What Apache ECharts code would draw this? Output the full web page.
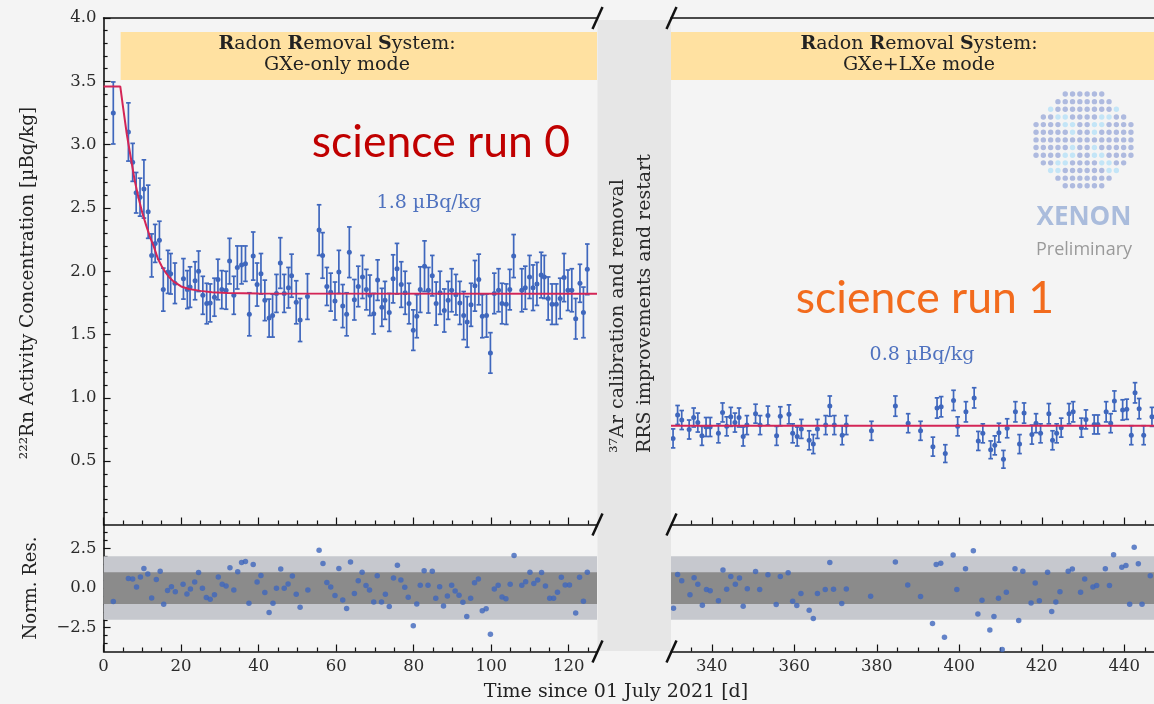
<!DOCTYPE html>
<html><head><meta charset="utf-8">
<script src="https://cdn.jsdelivr.net/npm/echarts@6/dist/echarts.min.js"></script>
<style>html,body{margin:0;padding:0;background:#F4F4F4}#c{width:1154px;height:704px}</style>
</head><body><div id="c"></div>
<script>
// ---------------- DATA ----------------
const leftDays = [2.5,6.4,7.5,8.4,9.4,10.4,11.5,12.4,13.3,14.4,
15.4,16.6,17.3,18.4,20.6,21.6,22.3,23.6,24.5,25.6,
26.6,27.5,28.6,29.5,30.5,31.6,32.5,33.6,34.5,35.6,
36.6,37.6,38.6,39.6,40.6,41.6,42.7,43.6,44.6,45.6,
46.6,47.7,48.5,49.7,50.7,52.6,55.6,56.5,57.6,58.6,
59.7,60.7,61.7,62.7,63.4,64.7,65.7,66.8,67.8,68.7,
69.7,70.7,71.8,72.6,73.7,74.7,75.7,76.8,77.8,78.8,
79.9,80.8,81.7,82.8,83.8,84.8,85.8,86.8,87.9,88.9,
89.8,90.9,91.9,92.9,93.8,94.8,95.8,96.8,97.7,98.8,
99.8,100.8,101.9,102.8,103.9,104.8,105.8,107.9,108.8,109.9,
110.8,111.8,112.9,113.7,114.7,115.7,116.8,117.8,118.8,119.8,
120.8,121.8,122.9,123.8,124.8];
const leftRn = [3.25,3.10,2.86,2.62,2.585,2.65,2.47,2.125,2.22,2.245,
1.855,1.995,1.98,1.905,1.94,1.855,1.875,1.925,2.00,1.81,
1.745,1.75,1.795,1.935,1.855,1.85,2.08,1.81,2.03,2.05,
2.06,1.66,2.12,1.895,1.98,1.77,1.63,1.65,1.825,2.065,
1.825,1.87,1.965,1.755,1.615,1.80,2.325,2.125,1.88,1.835,
1.765,1.995,1.725,1.66,2.15,1.775,1.88,1.955,1.855,1.81,
1.665,1.93,1.715,1.77,1.675,1.94,2.02,1.895,1.83,1.745,
1.535,1.645,1.855,2.04,1.85,1.965,1.745,1.83,1.69,1.77,
1.85,1.815,1.75,1.65,1.60,1.735,1.885,1.935,1.645,1.65,
1.355,1.825,1.85,1.745,1.74,1.855,2.12,1.85,1.87,1.955,
1.87,1.90,1.97,1.955,1.785,1.74,1.74,1.785,1.95,1.85,
1.85,1.625,1.905,1.675,2.015];
const leftErr = [0.245,0.23,0.15,0.16,0.15,0.23,0.21,0.17,0.15,0.15,
0.17,0.17,0.16,0.16,0.16,0.15,0.16,0.15,0.16,0.15,
0.16,0.15,0.15,0.16,0.15,0.15,0.18,0.15,0.17,0.15,
0.14,0.17,0.19,0.17,0.16,0.16,0.15,0.17,0.15,0.20,
0.15,0.16,0.17,0.17,0.17,0.18,0.20,0.18,0.15,0.15,
0.15,0.17,0.17,0.17,0.20,0.16,0.16,0.17,0.16,0.16,
0.16,0.16,0.15,0.15,0.15,0.19,0.20,0.18,0.17,0.16,
0.16,0.17,0.18,0.20,0.18,0.16,0.17,0.17,0.17,0.15,
0.17,0.16,0.17,0.19,0.20,0.17,0.20,0.20,0.17,0.17,
0.16,0.16,0.17,0.16,0.16,0.16,0.17,0.17,0.17,0.17,
0.18,0.17,0.18,0.17,0.17,0.16,0.16,0.16,0.19,0.16,
0.17,0.16,0.15,0.20,0.20];
const leftFitDays = [0,4.3,5,6,7,8,9,10,11,12,13,14,15,16,17,18,20,22,25,28,32,40,127.3];
const leftFitRn = [3.46,3.46,3.30,3.08,2.90,2.72,2.58,2.46,2.36,2.27,2.19,2.10,2.04,1.99,1.95,1.92,1.88,1.86,1.845,1.835,1.828,1.824,1.823];

const rightDays = [330.6,331.7,332.7,334.5,335.6,336.6,337.6,338.6,339.6,341.6,
342.6,343.6,344.6,345.6,346.6,347.6,348.5,350.6,351.7,353.6,
355.7,356.6,358.7,359.6,360.7,361.7,363.6,364.6,365.6,367.6,
368.6,369.7,371.6,372.6,378.7,384.5,387.6,390.6,393.6,394.6,
395.6,396.6,398.6,399.6,401.6,403.6,404.6,405.7,407.6,408.6,
409.6,410.7,411.6,413.6,414.6,415.7,417.6,418.6,419.7,421.7,
422.6,423.6,424.7,426.6,427.6,429.6,430.7,432.7,433.6,435.6,
436.7,437.6,439.6,440.6,441.7,442.6,443.6,444.7,446.7];
const rightRn = [0.68,0.865,0.825,0.75,0.845,0.805,0.70,0.77,0.77,0.72,
0.885,0.775,0.85,0.805,0.845,0.695,0.785,0.875,0.785,0.86,
0.70,0.855,0.87,0.72,0.695,0.755,0.665,0.635,0.755,0.785,
0.935,0.785,0.705,0.785,0.74,0.935,0.80,0.74,0.615,0.92,
0.93,0.56,0.98,0.775,0.89,1.00,0.66,0.72,0.59,0.625,
0.725,0.515,0.76,0.89,0.635,0.88,0.71,0.80,0.72,0.875,
0.665,0.72,0.765,0.875,0.89,0.765,0.83,0.79,0.79,0.89,
0.80,0.975,0.905,0.91,0.705,1.04,0.915,0.705,0.85];
const rightErr = [0.075,0.075,0.075,0.075,0.075,0.075,0.075,0.075,0.075,0.075,
0.075,0.075,0.075,0.075,0.075,0.075,0.075,0.075,0.075,0.075,
0.075,0.075,0.075,0.075,0.075,0.075,0.075,0.075,0.075,0.075,
0.08,0.075,0.075,0.075,0.075,0.08,0.075,0.075,0.075,0.08,
0.08,0.07,0.08,0.075,0.08,0.08,0.075,0.075,0.07,0.075,
0.075,0.07,0.075,0.08,0.075,0.08,0.075,0.075,0.075,0.08,
0.075,0.075,0.075,0.08,0.08,0.075,0.075,0.075,0.075,0.08,
0.075,0.08,0.08,0.08,0.075,0.08,0.08,0.075,0.075];
const rightFitDays = [330.1,447.2];
const rightFitRn = [0.78,0.78];

const leftResDays = [2.5,6.4,7.5,8.5,9.5,10.4,11.4,12.4,13.6,14.6,
15.5,16.5,17.5,18.5,20.5,21.5,22.4,23.5,24.5,25.5,
26.5,27.5,28.6,29.6,30.6,31.6,32.6,33.6,34.6,35.6,
36.6,37.5,38.6,39.6,40.6,41.6,42.7,43.7,44.6,45.7,
46.6,47.6,48.7,49.7,50.7,52.7,55.6,56.6,57.6,58.6,
59.7,60.7,61.7,62.7,63.7,64.7,65.7,66.7,67.7,68.6,
69.7,70.6,71.7,72.7,73.7,74.8,75.8,76.7,77.7,78.6,
79.9,80.8,81.7,82.7,83.7,84.8,85.7,86.7,87.7,88.7,
89.8,90.7,91.7,92.7,93.7,94.7,95.7,96.7,97.7,98.7,
99.8,100.8,101.8,102.8,103.8,104.9,105.9,107.9,108.9,110.0,
111.0,112.0,113.0,114.0,115.1,116.1,117.1,118.1,119.1,120.2,
121.8,122.8,123.8,124.8];
const leftRes = [-0.85,0.60,0.56,0.06,0.69,1.23,0.88,-0.63,0.54,1.06,
-1.02,-0.15,0.08,-0.23,0.23,-0.38,-0.06,0.38,0.98,-0.02,
-0.60,-0.71,-0.42,0.69,0.23,0.13,1.27,-0.13,1.02,1.60,
1.67,-0.96,1.48,0.38,0.79,-0.29,-1.54,-0.96,-0.02,1.19,
-0.02,0.25,0.75,-0.40,-1.21,-0.13,2.38,1.54,0.35,0.06,
-0.48,1.23,-0.75,-1.29,1.63,-0.35,0.46,1.00,0.15,-0.13,
-0.88,0.77,-0.88,-0.40,-1.17,0.63,1.44,0.50,0.04,-0.58,
-2.38,-1.00,0.17,1.08,0.17,1.06,-0.65,0.08,-1.13,-0.50,
0.17,-0.19,-0.46,-0.90,-1.79,-0.65,0.33,0.56,-1.44,-1.31,
-2.92,-0.06,0.17,-0.56,-0.67,0.23,2.04,0.17,0.40,1.00,
0.29,0.50,0.98,0.13,-0.65,-0.65,-0.27,0.67,0.19,0.19,
-1.58,0.67,-0.83,1.00];
const rightResDays = [330.7,331.7,332.7,334.7,335.7,336.6,337.7,338.7,339.6,341.6,
342.7,343.6,344.6,345.7,346.7,347.6,348.6,350.6,351.6,353.6,
355.6,356.6,358.5,359.6,360.6,361.6,363.6,364.6,365.6,367.5,
368.6,369.5,371.5,372.6,378.5,384.5,387.5,390.6,393.5,394.4,
395.5,396.4,398.5,399.4,401.5,403.4,404.5,405.5,407.4,408.4,
409.5,410.4,411.4,413.5,414.4,415.4,417.4,418.4,419.4,421.4,
422.4,423.4,424.4,426.4,427.4,429.4,430.4,432.4,433.3,435.4,
436.4,437.4,439.4,440.4,441.3,442.4,443.4,444.3,446.3];
const rightRes = [-1.27,0.85,0.46,-0.42,0.65,0.23,-1.08,-0.10,-0.17,-0.81,
1.13,-0.08,0.73,0.23,0.63,-1.15,-0.04,1.04,-0.10,0.83,
-1.04,0.73,0.96,-0.83,-1.10,-0.35,-1.40,-1.92,-0.35,-0.10,
1.60,-0.08,-0.98,-0.06,-0.52,1.63,0.19,-0.54,-2.23,1.48,
1.56,-3.10,2.08,-0.10,1.21,2.35,-1.63,-0.77,-2.65,-1.79,
-0.65,-3.88,-0.27,1.21,-2.04,1.06,-0.94,0.31,-0.81,1.00,
-1.48,-0.88,-0.23,1.06,1.19,-0.27,0.56,0.06,0.15,1.21,
0.15,2.10,1.31,1.42,-1.02,2.56,1.52,-1.02,0.77];

// axis ranges and ticks
const leftRange = [0, 127.3];
const rightRange = [330.1, 447.2];
const rnRange = [0, 4];
const resRange = [-4, 4];
const leftDayTicks = [0,20,40,60,80,100,120];
const leftDayMinor = [5,10,15,25,30,35,45,50,55,65,70,75,85,90,95,105,110,115,125];
const rightDayTicks = [340,360,380,400,420,440];
const rightDayMinor = [335,345,350,355,365,370,375,385,390,395,405,410,415,425,430,435,445];
const rnTicks = [0.5,1.0,1.5,2.0,2.5,3.0,3.5,4.0];
const rnMinor = [0.1,0.2,0.3,0.4,0.6,0.7,0.8,0.9,1.1,1.2,1.3,1.4,1.6,1.7,1.8,1.9,2.1,2.2,2.3,2.4,2.6,2.7,2.8,2.9,3.1,3.2,3.3,3.4,3.6,3.7,3.8,3.9];
const resTicks = [-2.5,0,2.5];
const resMinor = [-3.5,-3,-2,-1.5,-1,-0.5,0.5,1,1.5,2,3,3.5];
// annotation bands
const rrsBandRn = [3.51, 3.89];
const rrsLeftDays = [4.4, 127.3];
const sigmaBands = [2, 1];

// ---------------- STYLE ----------------
const BLUE = '#3F67BD', RED = '#D42556', AX = '#111111';
const SERIF = 'DejaVu Serif';

function ax(o){
  return Object.assign({type:'value', splitLine:{show:false},
    axisLine:{show:false,onZero:false}, axisTick:{show:false}, axisLabel:{show:false}}, o);
}
function aline(){ return {show:true,onZero:false,lineStyle:{color:AX,width:1.6}}; }
function ticks(vals,len){ return {show:true,inside:true,length:len,customValues:vals,lineStyle:{color:AX,width:1.2}}; }
function labels(vals,fmt,margin){ return {show:true,customValues:vals,formatter:fmt,color:'#2b2b2b',fontFamily:SERIF,fontSize:16.5,margin:margin}; }

const fmt1 = v => Number(v).toFixed(1);
const fmtRes = v => { const s = Math.abs(v).toFixed(1); return v < 0 ? '\u2212' + s : s; };

const grids = [
  {left:103.6, top:18, width:493.4, height:506.5},
  {left:671, top:18, width:483, height:506.5},
  {left:103.6, top:524.5, width:493.4, height:127},
  {left:671, top:524.5, width:483, height:127}
];

const xAxes = [
  ax({gridIndex:0,min:leftRange[0],max:leftRange[1],position:'bottom',axisLine:aline(),axisTick:ticks(leftDayTicks,7)}),
  ax({gridIndex:0,min:leftRange[0],max:leftRange[1],position:'bottom',axisTick:ticks(leftDayMinor,4)}),
  ax({gridIndex:0,min:leftRange[0],max:leftRange[1],position:'top',axisLine:aline()}),
  ax({gridIndex:1,min:rightRange[0],max:rightRange[1],position:'bottom',axisLine:aline(),axisTick:ticks(rightDayTicks,7)}),
  ax({gridIndex:1,min:rightRange[0],max:rightRange[1],position:'bottom',axisTick:ticks(rightDayMinor,4)}),
  ax({gridIndex:1,min:rightRange[0],max:rightRange[1],position:'top',axisLine:aline()}),
  ax({gridIndex:2,min:leftRange[0],max:leftRange[1],position:'bottom',axisLine:aline(),axisTick:ticks(leftDayTicks,7),axisLabel:labels(leftDayTicks,v=>String(v),7)}),
  ax({gridIndex:2,min:leftRange[0],max:leftRange[1],position:'bottom',axisTick:ticks(leftDayMinor,4)}),
  ax({gridIndex:3,min:rightRange[0],max:rightRange[1],position:'bottom',axisLine:aline(),axisTick:ticks(rightDayTicks,7),axisLabel:labels(rightDayTicks,v=>String(v),7)}),
  ax({gridIndex:3,min:rightRange[0],max:rightRange[1],position:'bottom',axisTick:ticks(rightDayMinor,4)})
];
const yAxes = [
  ax({gridIndex:0,min:rnRange[0],max:rnRange[1],position:'left',axisLine:aline(),axisTick:ticks(rnTicks,7),axisLabel:labels(rnTicks,fmt1,7)}),
  ax({gridIndex:0,min:rnRange[0],max:rnRange[1],position:'left',axisTick:ticks(rnMinor,4)}),
  ax({gridIndex:1,min:rnRange[0],max:rnRange[1]}),
  ax({gridIndex:2,min:resRange[0],max:resRange[1],position:'left',axisLine:aline(),axisTick:ticks(resTicks,7),axisLabel:labels(resTicks,fmtRes,7)}),
  ax({gridIndex:2,min:resRange[0],max:resRange[1],position:'left',axisTick:ticks(resMinor,4)}),
  ax({gridIndex:3,min:resRange[0],max:resRange[1]})
];

function errItem(params, api){
  const x = api.value(0), y = api.value(1), e = api.value(2);
  const c = api.coord([x,y]), t = api.coord([x,y+e]), b = api.coord([x,y-e]);
  const st = {stroke:BLUE, lineWidth:1.7};
  return {type:'group', children:[
    {type:'line', shape:{x1:c[0],y1:t[1],x2:c[0],y2:b[1]}, style:st},
    {type:'line', shape:{x1:c[0]-2.3,y1:t[1],x2:c[0]+2.3,y2:t[1]}, style:st},
    {type:'line', shape:{x1:c[0]-2.3,y1:b[1],x2:c[0]+2.3,y2:b[1]}, style:st},
    {type:'circle', shape:{cx:c[0],cy:c[1],r:2.5}, style:{fill:BLUE}}
  ]};
}
function rectItem(colors){
  return function(params, api){
    const p1 = api.coord([api.value(0), api.value(3)]);
    const p2 = api.coord([api.value(1), api.value(2)]);
    return {type:'rect', shape:{x:p1[0], y:p1[1], width:p2[0]-p1[0], height:p2[1]-p1[1]},
      style:{fill:colors[params.dataIndex]}};
  };
}
const zip3 = (a,b,c) => a.map((v,i)=>[v,b[i],c[i]]);
const zip2 = (a,b) => a.map((v,i)=>[v,b[i]]);

const series = [
  {type:'custom', xAxisIndex:0, yAxisIndex:0, z:1, silent:true, renderItem:rectItem(['#FFE1A1']),
   encode:{x:[0,1],y:[2,3]}, data:[[rrsLeftDays[0],rrsLeftDays[1],rrsBandRn[0],rrsBandRn[1]]]},
  {type:'custom', xAxisIndex:3, yAxisIndex:2, z:1, silent:true, renderItem:rectItem(['#FFE1A1']),
   encode:{x:[0,1],y:[2,3]}, data:[[rightRange[0],rightRange[1],rrsBandRn[0],rrsBandRn[1]]]},
  {type:'custom', xAxisIndex:6, yAxisIndex:3, z:1, silent:true, renderItem:rectItem(['#C6C8CE','#8B8B8B']),
   encode:{x:[0,1],y:[2,3]}, data:sigmaBands.map(s=>[leftRange[0],leftRange[1],-s,s])},
  {type:'custom', xAxisIndex:8, yAxisIndex:5, z:1, silent:true, renderItem:rectItem(['#C6C8CE','#8B8B8B']),
   encode:{x:[0,1],y:[2,3]}, data:sigmaBands.map(s=>[rightRange[0],rightRange[1],-s,s])},
  {type:'custom', xAxisIndex:0, yAxisIndex:0, z:3, renderItem:errItem, encode:{x:0,y:1},
   data:zip3(leftDays,leftRn,leftErr)},
  {type:'custom', xAxisIndex:3, yAxisIndex:2, z:3, renderItem:errItem, encode:{x:0,y:1},
   data:zip3(rightDays,rightRn,rightErr)},
  {type:'line', xAxisIndex:0, yAxisIndex:0, z:4, showSymbol:false, symbol:'none',
   lineStyle:{color:RED,width:2}, data:zip2(leftFitDays,leftFitRn)},
  {type:'line', xAxisIndex:3, yAxisIndex:2, z:4, showSymbol:false, symbol:'none',
   lineStyle:{color:RED,width:2}, data:zip2(rightFitDays,rightFitRn)},
  {type:'scatter', xAxisIndex:6, yAxisIndex:3, z:4, symbolSize:5.5, itemStyle:{color:BLUE},
   data:zip2(leftResDays,leftRes)},
  {type:'scatter', xAxisIndex:8, yAxisIndex:5, z:4, symbolSize:5.5, itemStyle:{color:BLUE},
   data:zip2(rightResDays,rightRes)}
];

// ---------------- ANNOTATIONS ----------------
const g = [];
g.push({type:'rect', shape:{x:597.5, y:20, width:73.5, height:631}, style:{fill:'#E6E6E6'}, z:5});
[597.5, 671.5].forEach(x => [18, 524.5, 651.5].forEach(y => {
  g.push({type:'line', shape:{x1:x-5, y1:y+11, x2:x+5, y2:y-11}, style:{stroke:AX, lineWidth:2.5}, z:20});
}));
function txt(x,y,text,o,extra){
  return Object.assign({type:'text', x:x, y:y, z:30, silent:true,
    style:Object.assign({text:text, fill:'#222', fontFamily:SERIF, fontSize:19, align:'center', verticalAlign:'middle'}, o)}, extra||{});
}
const richB = {b:{fontWeight:'bold', fontFamily:SERIF, fontSize:19, fill:'#222', lineHeight:21}};
g.push(txt(337, 54.5, '{b|R}adon {b|R}emoval {b|S}ystem:\nGXe-only mode', {lineHeight:21, rich:richB}));
g.push(txt(919, 54.5, '{b|R}adon {b|R}emoval {b|S}ystem:\nGXe+LXe mode', {lineHeight:21, rich:richB}));
g.push(txt(441, 143, 'science run 0', {fontFamily:'Lato', fontSize:44.5, fill:'#C00000'}));
g.push(txt(925, 299, 'science run 1', {fontFamily:'Lato', fontSize:44.5, fill:'#F26B1D'}));
g.push(txt(429, 203, '1.8 \u00B5Bq/kg', {fill:'#4F72BF'}));
g.push(txt(922, 355, '0.8 \u00B5Bq/kg', {fill:'#4F72BF'}));
g.push(txt(618.5, 453, '\u00B3\u2077Ar calibration and removal', {align:'left', fill:'#2a2a2a'}, {rotation:Math.PI/2}));
g.push(txt(645.5, 453, 'RRS improvements and restart', {align:'left', fill:'#2a2a2a'}, {rotation:Math.PI/2}));
g.push(txt(28, 283, '\u00B2\u00B2\u00B2Rn Activity Concentration [\u00B5Bq/kg]', {fontSize:18.5}, {rotation:Math.PI/2}));
g.push(txt(31, 588, 'Norm. Res.', {fontSize:18}, {rotation:Math.PI/2}));
g.push(txt(616, 692, 'Time since 01 July 2021 [d]', {fontSize:19}));
g.push(txt(1084, 217.5, 'XENON', {fontFamily:'Open Sans', fontWeight:'bold', fontSize:26, fill:'#AABCDC'}));
g.push(txt(1084, 250, 'Preliminary', {fontFamily:'Open Sans', fontSize:18, fill:'#9A9A9A'}));
// XENON logo dot disc (decoration)
for (let r = 0; r < 13; r++) {
  const y = 94 + r * 7.65, dy = y - 140;
  const hw = Math.sqrt(Math.max(0, 50*50 - dy*dy));
  for (let k = -6.5; k <= 6.5; k += 1) {
    const dx = k * 7.3;
    if (Math.abs(dx) > hw) continue;
    const cyan = Math.abs(Math.abs(dx) - Math.abs(dy)) < 5 && Math.abs(dx) > 8;
    g.push({type:'circle', silent:true, z:10, shape:{cx:1083.5+dx, cy:y, r:2.7}, style:{fill: cyan ? '#C3E5F7' : '#AEBADF'}});
  }
}

const chart = echarts.init(document.getElementById('c'), null, {renderer:'canvas'});
chart.setOption({
  backgroundColor:'#F4F4F4', animation:false,
  grid:grids, xAxis:xAxes, yAxis:yAxes, series:series,
  graphic:{elements:g}
});
</script></body></html>
